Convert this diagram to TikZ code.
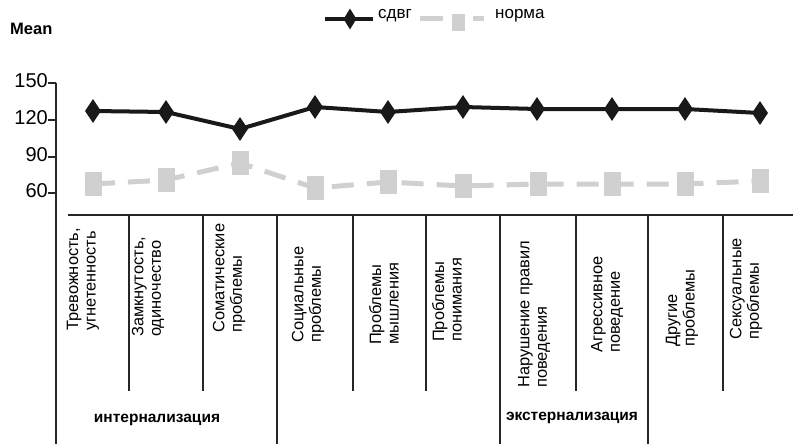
\documentclass[tikz,border=0pt]{standalone}
\usepackage{fontspec}
\setmainfont{Liberation Sans}
\usetikzlibrary{shapes.geometric}

\definecolor{normgray}{RGB}{208,208,208}
\tikzset{
  axisline/.style={line width=1.6pt, black!85},
  sepline/.style={line width=1.4pt, black!85},
  adhdline/.style={line width=4pt, black!90},
  normline/.style={line width=5pt, normgray, dash pattern=on 22pt off 13pt},
  adhdmark/.style={diamond, fill=black!90, draw=none, inner sep=0pt,
                   minimum width=16pt, minimum height=24pt},
  normmark/.style={rectangle, fill=normgray, draw=none, inner sep=0pt,
                   minimum width=17pt, minimum height=24pt},
  valuelabel/.style={anchor=east, inner sep=0pt, font=\fontsize{20}{21}\selectfont},
  catlabel/.style={rotate=90, anchor=west, align=left, inner sep=0pt,
                   font=\fontsize{16.4}{17.5}\selectfont},
  grouplabel/.style={font=\fontsize{15.5}{17}\selectfont\bfseries, inner sep=0pt},
  legendtext/.style={anchor=west, inner sep=0pt, font=\fontsize{17}{18}\selectfont},
}

\begin{document}
\begin{tikzpicture}[x=1pt, y=-1pt]
\useasboundingbox (0,0) rectangle (793,444);

% axis title and legend
\node[anchor=west, inner sep=0pt, font=\fontsize{16.5}{18}\selectfont\bfseries] (mean) at (10,29) {Mean};

\coordinate (la) at (325,19);
\coordinate (lb) at (373,19);
\draw[adhdline] (la) -- (lb);
\node[adhdmark, minimum width=13pt, minimum height=21pt] (lmA) at (350,19) {};
\node[legendtext] (ladhd) at (378,16) {сдвг};

\coordinate (lc) at (420,19);
\coordinate (ld) at (484,19);
\draw[line width=5pt, normgray, dash pattern=on 23pt off 9pt on 13pt off 8pt] (lc) -- (ld);
\node[normmark, minimum width=13pt, minimum height=17pt] (lmN) at (458,23) {};
\node[legendtext] (lnorm) at (495,16) {норма};

% y axis with ticks
\coordinate (ytop) at (56,83);
\coordinate (ybot) at (56,444);
\draw[axisline] (ytop) -- (ybot);
\coordinate (t150) at (56,83);  \coordinate (tl150) at (48,83);
\coordinate (t120) at (56,120); \coordinate (tl120) at (48,120);
\coordinate (t90)  at (56,157); \coordinate (tl90)  at (48,157);
\coordinate (t60)  at (56,193); \coordinate (tl60)  at (48,193);
\draw[axisline] (tl150) -- (t150);
\draw[axisline] (tl120) -- (t120);
\draw[axisline] (tl90) -- (t90);
\draw[axisline] (tl60) -- (t60);
\node[valuelabel] (v150) at (48,81)  {150};
\node[valuelabel] (v120) at (48,118) {120};
\node[valuelabel] (v90)  at (48,155) {90};
\node[valuelabel] (v60)  at (48,191) {60};

% category grid
\coordinate (hl) at (68,215);
\coordinate (hr) at (793,215);
\draw[axisline] (hl) -- (hr);
\foreach \x in {129, 203, 353, 426, 576, 723} {
  \coordinate (st\x) at (\x,215);
  \coordinate (sb\x) at (\x,391);
  \draw[sepline] (st\x) -- (sb\x);
}
\foreach \x in {277, 500, 648} {
  \coordinate (lt\x) at (\x,215);
  \coordinate (lb\x) at (\x,444);
  \draw[sepline] (lt\x) -- (lb\x);
}

% category labels
\node[catlabel] (c1) at (83,331) {Тревожность,\\угнетенность};
\node[catlabel] (c2) at (148,337) {Замкнутость,\\одиночество};
\node[catlabel] (c3) at (229,333) {Соматические\\проблемы};
\node[catlabel] (c4) at (308,343) {Социальные\\проблемы};
\node[catlabel] (c5) at (384,345) {Проблемы\\мышления};
\node[catlabel] (c6) at (447,342) {Проблемы\\понимания};
\node[catlabel] (c7) at (534,388) {Нарушение правил\\поведения};
\node[catlabel] (c8) at (607,353) {Агрессивное\\поведение};
\node[catlabel] (c9) at (682,347) {Другие\\проблемы};
\node[catlabel] (c10) at (746,340) {Сексуальные\\проблемы};

\node[grouplabel] (gin) at (157,420) {интернализация};
\node[grouplabel] (gex) at (572,418) {экстернализация};

% norm series
\foreach \i/\x/\y in {1/93/184, 2/166/180, 3/240/163, 4/315/188, 5/388/182,
                      6/463/186, 7/538/184, 8/612/184, 9/685/184, 10/760/181}
  \coordinate (n\i) at (\x,\y);
\draw[normline] (n1) -- (n2) -- (n3) -- (n4) -- (n5) -- (n6) -- (n7) -- (n8) -- (n9) -- (n10);
\foreach \i in {1,...,10} \node[normmark] (nm\i) at (n\i) {};

% ADHD series
\foreach \i/\x/\y in {1/93/111, 2/166/112, 3/240/129, 4/315/107, 5/388/112,
                      6/463/107, 7/537/109, 8/612/109, 9/685/109, 10/760/113}
  \coordinate (a\i) at (\x,\y);
\draw[adhdline, line join=round] (a1) -- (a2) -- (a3) -- (a4) -- (a5) -- (a6) -- (a7) -- (a8) -- (a9) -- (a10);
\foreach \i in {1,...,10} \node[adhdmark] (am\i) at (a\i) {};

\end{tikzpicture}
\end{document}
